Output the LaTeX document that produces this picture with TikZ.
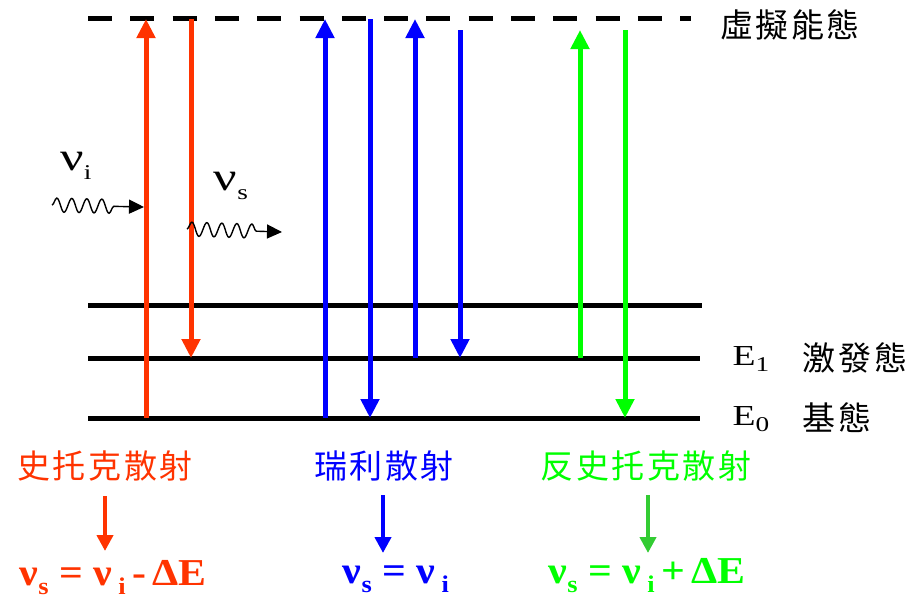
\documentclass[tikz,border=0pt]{standalone}
\usepackage{fontspec}
\setmainfont{Liberation Serif}
\newfontfamily\wide[FakeStretch=1.3]{Liberation Serif}
\newfontfamily\fwide[FakeStretch=1.1]{Liberation Serif}
\newfontfamily\cjk[LetterSpace=8]{Noto Sans CJK TC}
\usetikzlibrary{arrows.meta,decorations.pathmorphing}
\definecolor{ored}{HTML}{FF3300}
\definecolor{pblue}{HTML}{0000FF}
\definecolor{pgreen}{HTML}{00FF00}
\definecolor{dgreen}{HTML}{33CC33}
\newcommand{\sbs}[1]{\raisebox{-0.22em}{\fontsize{21}{21}\selectfont #1}}
\newcommand{\bsbs}[1]{\raisebox{-0.25em}{\fontsize{24}{24}\selectfont\bfseries #1}}
\begin{document}
\begin{tikzpicture}[x=1pt,y=-1pt,
  level/.style={line width=5pt},
  trans/.style={line width=5pt,-{Triangle[length=19pt,width=18pt]}},
  small/.style={line width=4.5pt,-{Triangle[length=16pt,width=16pt]}},
  wave/.style={line width=1.4pt,-{Triangle[length=15pt,width=14pt]},decorate,
    decoration={snake,amplitude=7pt,segment length=15pt,post length=24pt}},
  cjklab/.style={font=\cjk\fontsize{33}{33}\selectfont,inner sep=0pt},
  elab/.style={font=\wide\fontsize{29}{29}\selectfont,inner sep=0pt},
  nulab/.style={font=\wide\fontsize{40}{40}\selectfont,inner sep=0pt},
  formula/.style={font=\fwide\fontsize{38}{38}\selectfont\bfseries,inner sep=0pt,anchor=base}]
\useasboundingbox (0,0) rectangle (911,598);
% energy levels
\coordinate (vL) at (88,18);  \coordinate (vR) at (691,18);
\coordinate (aL) at (88,305); \coordinate (aR) at (702,305);
\coordinate (eL) at (88,358); \coordinate (eR) at (700,358);
\coordinate (gL) at (88,418); \coordinate (gR) at (700,418);
\draw[level,dash pattern=on 24pt off 18.3pt] (vL) -- (vR);
\draw[level] (aL) -- (aR);
\draw[level] (eL) -- (eR);
\draw[level] (gL) -- (gR);
% Stokes
\coordinate (r1b) at (146,418); \coordinate (r1t) at (146,19);
\coordinate (r2t) at (191,19);  \coordinate (r2b) at (191,358);
\draw[trans,ored] (r1b) -- (r1t);
\draw[trans,ored] (r2t) -- (r2b);
% Rayleigh
\coordinate (b1b) at (325,418); \coordinate (b1t) at (325,19);
\coordinate (b2t) at (370,19);  \coordinate (b2b) at (370,418);
\coordinate (b3b) at (415,358); \coordinate (b3t) at (415,19);
\coordinate (b4t) at (460,30);  \coordinate (b4b) at (460,358);
\draw[trans,pblue] (b1b) -- (b1t);
\draw[trans,pblue] (b2t) -- (b2b);
\draw[trans,pblue] (b3b) -- (b3t);
\draw[trans,pblue] (b4t) -- (b4b);
% anti-Stokes
\coordinate (g1b) at (580,358); \coordinate (g1t) at (580,30);
\coordinate (g2t) at (625,30);  \coordinate (g2b) at (625,418);
\draw[trans,pgreen] (g1b) -- (g1t);
\draw[trans,pgreen] (g2t) -- (g2b);
% photons
\coordinate (w1s) at (52,205); \coordinate (w1e) at (144,207);
\coordinate (w2s) at (187,229); \coordinate (w2e) at (282,232);
\draw[wave] (w1s) -- (w1e);
\draw[wave] (w2s) -- (w2e);
\node[nulab] (nui) at (76,166) {ν\sbs{i}};
\node[nulab] (nus) at (231,186) {ν\sbs{s}};
% level labels
\node[cjklab] (virt) at (790,25) {虛擬能態};
\node[elab] (E1) at (751,359) {E\sbs{1}};
\node[cjklab] (exc) at (855,358) {激發態};
\node[elab] (E0) at (751,419) {E\sbs{0}};
\node[cjklab] (gnd) at (837,418) {基態};
% bottom labels
\node[cjklab,ored] (stk) at (105,466) {史托克散射};
\node[cjklab,pblue] (ray) at (384,466) {瑞利散射};
\node[cjklab,pgreen] (ast) at (646,466) {反史托克散射};
\coordinate (s1t) at (105,496); \coordinate (s1b) at (105,551);
\coordinate (s2t) at (383,495); \coordinate (s2b) at (383,553);
\coordinate (s3t) at (648,495); \coordinate (s3b) at (648,553);
\draw[small,ored] (s1t) -- (s1b);
\draw[small,pblue] (s2t) -- (s2b);
\draw[small,dgreen] (s3t) -- (s3b);
\node[formula,ored] (f1) at (113,585) {ν\bsbs{s} = ν\,\bsbs{i}\,-\,ΔE};
\node[formula,pblue] (f2) at (396,583) {ν\bsbs{s} = ν\,\bsbs{i}};
\node[formula,pgreen] (f3) at (647,583) {ν\bsbs{s} = ν\,\bsbs{i}\,+\,ΔE};
\end{tikzpicture}
\end{document}
